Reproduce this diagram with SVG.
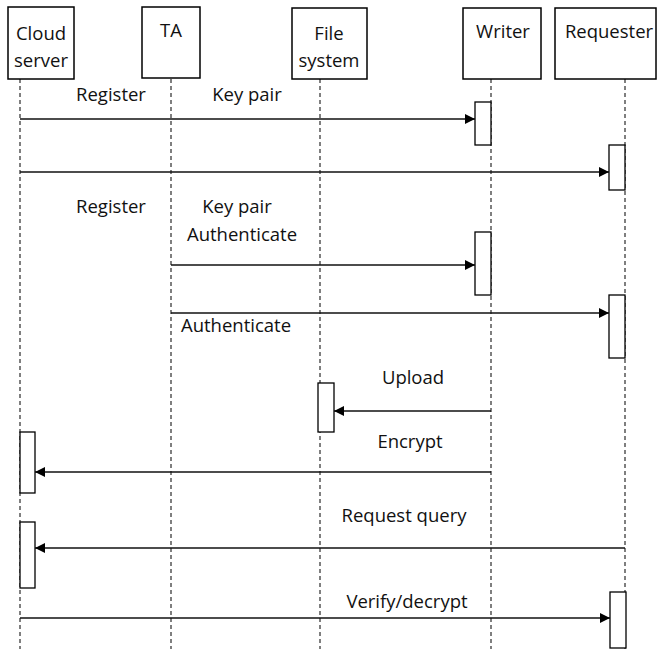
<svg xmlns="http://www.w3.org/2000/svg" width="659" height="649" viewBox="0 0 659 649">
<style>
.box{fill:#fff;stroke:#000;stroke-width:1.5}
.life{stroke:#555;stroke-width:1.5;stroke-dasharray:4 3;fill:none}
.act{fill:#fff;stroke:#000;stroke-width:1.3}
.msg{stroke:#111;stroke-width:1.5;fill:none}
text{font-family:"Open Sans","Liberation Sans",sans-serif;font-size:18.5px;fill:#111;text-anchor:middle}
</style>
<defs>
<marker id="ah" viewBox="0 0 10 10" refX="10" refY="5" markerWidth="10" markerHeight="10" markerUnits="userSpaceOnUse" orient="auto">
<path d="M0,0 L10,5 L0,10 z" fill="#000"/>
</marker>
</defs>
<rect width="659" height="649" fill="#fff"/>
<g id="lifelines">
<line class="life" x1="20" y1="79" x2="20" y2="649"/>
<line class="life" x1="171" y1="79" x2="171" y2="649"/>
<line class="life" x1="320" y1="79" x2="320" y2="649"/>
<line class="life" x1="491" y1="79" x2="491" y2="649"/>
<line class="life" x1="625" y1="79" x2="625" y2="649"/>
</g>
<g id="cloud">
<rect class="box" x="8" y="7" width="66" height="72"/>
<text x="41" y="40">Cloud</text>
<text x="41" y="67">server</text>
</g>
<g id="ta">
<rect class="box" x="142" y="7" width="58" height="71"/>
<text x="171" y="37">TA</text>
</g>
<g id="filesystem">
<rect class="box" x="292" y="8" width="75" height="71"/>
<text x="329" y="40">File</text>
<text x="329" y="67">system</text>
</g>
<g id="writer">
<rect class="box" x="463" y="8" width="78" height="71"/>
<text x="503" y="38">Writer</text>
</g>
<g id="requester">
<rect class="box" x="555" y="8" width="101" height="71"/>
<text x="609" y="38">Requester</text>
</g>
<g id="activations">
<rect class="act" x="475" y="102" width="16" height="43"/>
<rect class="act" x="609" y="145" width="16" height="45"/>
<rect class="act" x="475" y="232" width="16" height="63"/>
<rect class="act" x="609" y="295" width="16" height="63"/>
<rect class="act" x="318" y="383" width="16" height="49"/>
<rect class="act" x="20" y="432" width="15" height="61"/>
<rect class="act" x="20" y="522" width="15" height="66"/>
<rect class="act" x="610" y="592" width="16" height="56"/>
</g>
<g id="connectors">
<line class="msg" x1="20" y1="119" x2="475" y2="119" marker-end="url(#ah)"/>
<line class="msg" x1="20" y1="172" x2="609" y2="172" marker-end="url(#ah)"/>
<line class="msg" x1="171" y1="265" x2="475" y2="265" marker-end="url(#ah)"/>
<line class="msg" x1="171" y1="313" x2="609" y2="313" marker-end="url(#ah)"/>
<line class="msg" x1="491" y1="411" x2="334" y2="411" marker-end="url(#ah)"/>
<line class="msg" x1="491" y1="472" x2="35" y2="472" marker-end="url(#ah)"/>
<line class="msg" x1="625" y1="548" x2="35" y2="548" marker-end="url(#ah)"/>
<line class="msg" x1="20" y1="618" x2="610" y2="618" marker-end="url(#ah)"/>
</g>
<g id="labels">
<text x="111" y="101">Register</text>
<text x="247" y="101">Key pair</text>
<text x="111" y="213">Register</text>
<text x="237" y="213">Key pair</text>
<text x="242" y="241">Authenticate</text>
<text x="236" y="332">Authenticate</text>
<text x="413" y="384">Upload</text>
<text x="410" y="448">Encrypt</text>
<text x="404" y="522">Request query</text>
<text x="407" y="608">Verify/decrypt</text>
</g>
</svg>
